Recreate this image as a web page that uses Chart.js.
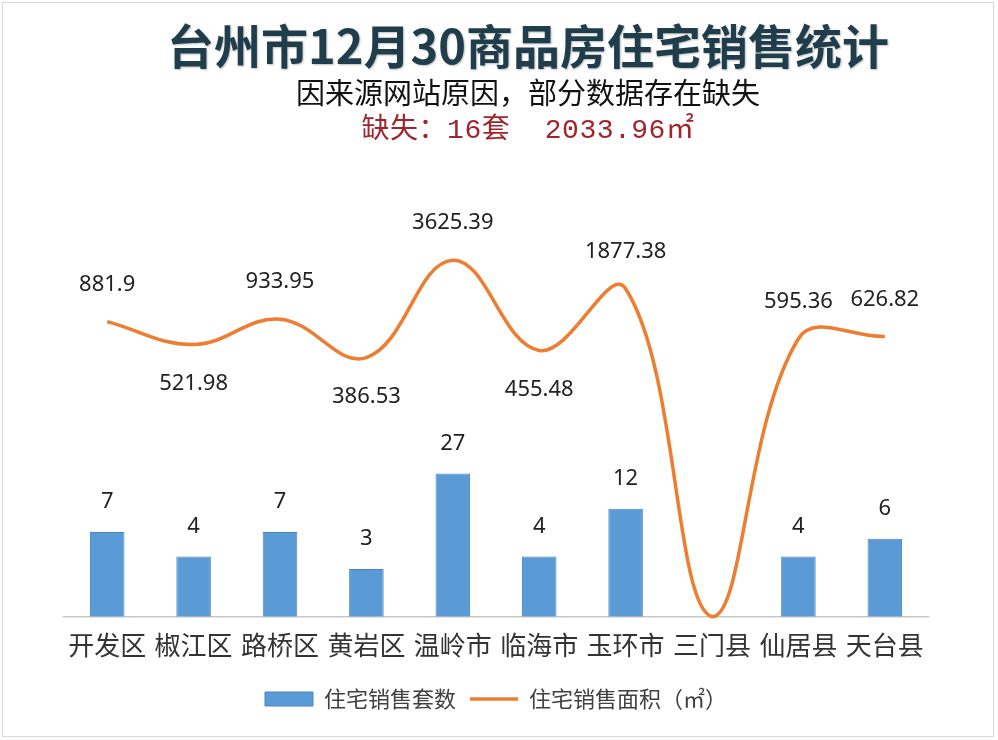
<!DOCTYPE html>
<html>
<head>
<meta charset="utf-8">
<script src="https://cdn.jsdelivr.net/npm/chart.js@4.4.1/dist/chart.umd.min.js"></script>
<style>
  html, body { margin: 0; padding: 0; background: #fff; }
  #wrap { position: relative; width: 998px; height: 740px; overflow: hidden; }
  #frame { position: absolute; left: 2px; top: 2px; width: 990px; height: 733px; border: 1px solid #d8d8d8; }
  #myChart { position: absolute; left: 0; top: 0; }
  .head { position: absolute; left: 0; width: 1056px; text-align: center; white-space: nowrap; }
  #title { top: 15px; font: bold 47px "Noto Sans CJK SC", sans-serif; color: #1f3d4b; text-shadow: 1px 1px 2px rgba(0,0,0,0.25); line-height: 58px; }
  #sub { top: 71px; font: 29px "Noto Sans CJK SC", sans-serif; color: #111; line-height: 40px; }
  #miss { top: 112px; font: 28px "Liberation Mono", "Noto Sans CJK SC", monospace; color: #a2242b; line-height: 38px; letter-spacing: 0.5px; }
</style>
</head>
<body>
<div id="wrap">
  <div id="frame"></div>
  <canvas id="myChart" width="998" height="740"></canvas>
  <div class="head" id="title">台州市12月30商品房住宅销售统计</div>
  <div class="head" id="sub">因来源网站原因，部分数据存在缺失</div>
  <div class="head" id="miss">缺失：16套&nbsp;&nbsp;2033.96㎡</div>
</div>
<script>
// Variables
const districts = ['开发区', '椒江区', '路桥区', '黄岩区', '温岭市', '临海市', '玉环市', '三门县', '仙居县', '天台县'];
const salesCount = [7, 4, 7, 3, 27, 4, 12, 0, 4, 6];
const salesArea = [881.9, 521.98, 933.95, 386.53, 3625.39, 455.48, 1877.38, 0, 595.36, 626.82];
const countLabel = '住宅销售套数';
const areaLabel = '住宅销售面积（㎡）';

const yMin = 1;
const yMax = 10000;

const ctx = document.getElementById('myChart').getContext('2d');

// log axis: a zero value sits on the baseline
const areaPlotted = salesArea.map(v => v || yMin);

// value labels above bars, above/below the curve points
const valueLabels = {
    id: 'valueLabels',
    afterDatasetsDraw(chart) {
        const c = chart.ctx;
        c.save();
        c.font = '22px "Noto Sans", sans-serif';
        c.fillStyle = '#222';
        c.textAlign = 'center';
        c.textBaseline = 'middle';

        chart.getDatasetMeta(0).data.forEach((bar, i) => {
            if (!salesCount[i]) return;
            c.fillText(String(salesCount[i]), bar.x, bar.y - 30);
        });

        chart.getDatasetMeta(1).data.forEach((pt, i) => {
            const v = salesArea[i];
            if (!v) return;
            const prev = i > 0 ? salesArea[i - 1] : Infinity;
            const next = i < salesArea.length - 1 ? salesArea[i + 1] : Infinity;
            const below = v < prev && v < next;
            c.fillText(String(v), pt.x, below ? pt.y + 39 : pt.y - 37);
        });
        c.restore();
    }
};

// Chart Data
const chart = new Chart(ctx, {
    type: 'bar',
    data: {
        labels: districts,
        datasets: [{
            label: countLabel,
            data: salesCount,
            backgroundColor: '#5b9bd5',
            borderColor: '#4a86c0',
            borderWidth: 1,
            barPercentage: 0.8,
            categoryPercentage: 0.5,
            pointStyle: 'rect'
        }, {
            type: 'line',
            label: areaLabel,
            data: areaPlotted,
            borderColor: '#ed7d31',
            backgroundColor: '#ed7d31',
            borderWidth: 3.5,
            tension: 0.4,
            pointRadius: 0,
            pointStyle: 'line',
            clip: false
        }]
    },
    options: {
        responsive: false,
        animation: false,
        layout: { padding: { left: 64, right: 70, top: 216, bottom: 20 } },
        scales: {
            x: {
                grid: { display: false },
                border: { display: true, color: '#c8c8c8', width: 1.5 },
                ticks: { color: '#333', padding: 5, font: { family: '"Noto Sans CJK SC", sans-serif', size: 26 } },
                // extra room between the district names and the legend
                afterFit(scale) { scale.height += 8; }
            },
            y: {
                type: 'logarithmic',
                min: yMin,
                max: yMax,
                display: false
            }
        },
        plugins: {
            legend: {
                position: 'bottom',
                labels: {
                    usePointStyle: true,
                    pointStyleWidth: 48,
                    boxHeight: 14,
                    padding: 14,
                    color: '#404040',
                    font: { family: '"Noto Sans CJK SC", sans-serif', size: 22 }
                }
            },
            tooltip: { enabled: false }
        }
    },
    plugins: [valueLabels]
});
</script>
</body>
</html>
